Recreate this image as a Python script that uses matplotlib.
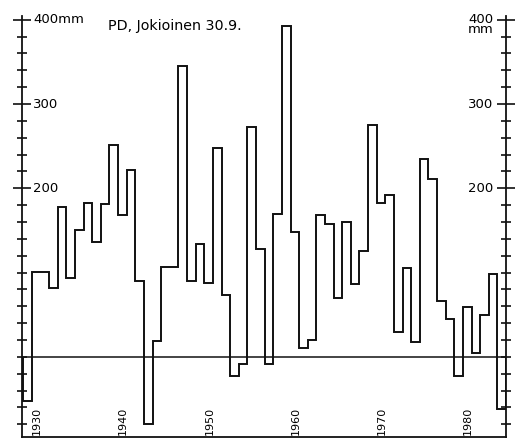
import matplotlib
matplotlib.use("Agg")
import matplotlib.pyplot as plt
import numpy as np

# PD on 30.9. at Jokioinen, one value per year, 1929-1984 (mm)
first_year = 1929
pd_values = [-52, 101, 101, 82, 178, 94, 150, 183, 136, 181,
             251, 168, 222, 90, -80, 19, 107, 107, 345, 90,
             134, 88, 248, 73, -23, -9, 273, 128, -8, 169,
             392, 148, 10, 20, 168, 158, 70, 160, 87, 125,
             275, 182, 192, 30, 105, 18, 235, 211, 66, 45,
             -23, 59, 4, 50, 98, -62]

year_labels = [1930, 1940, 1950, 1960, 1970, 1980]
left_labels = {400: "400mm", 300: "300", 200: "200"}
right_labels = {300: "300", 200: "200"}
title = "PD, Jokioinen 30.9."

edges = np.arange(first_year, first_year + len(pd_values) + 1)

fig = plt.figure(figsize=(5.18, 4.44), dpi=100)
ax = fig.add_axes([0.0425, 0.016, 0.9343, 0.949])

# the yearly steps
ax.stairs(pd_values, edges, baseline=0, color="#111111", linewidth=1.4)

# zero line
ax.axhline(0, color="#111111", linewidth=1.1)

ax.set_xlim(1928.85, 1985.0)
ax.set_ylim(-95, 405)

ax.spines["top"].set_visible(False)
for s in ["left", "right", "bottom"]:
    ax.spines[s].set_linewidth(1.3)
    ax.spines[s].set_color("#111111")

# ticks on both sides, crossing the axis lines
ax.set_xticks([])
ax.yaxis.set_ticks_position("both")
ax.set_yticks([200, 300, 400])
ax.set_yticks(np.arange(-80, 401, 20), minor=True)
ax.tick_params(axis="y", which="major", direction="inout", length=13,
               width=1.2, labelleft=False, labelright=False, color="#111111")
ax.tick_params(axis="y", which="minor", direction="inout", length=7,
               width=1.2, color="#111111")

# labels inside the axes
for val, txt in left_labels.items():
    ax.annotate(txt, xy=(0, val), xycoords=("axes fraction", "data"),
                xytext=(8, 0), textcoords="offset points",
                ha="left", va="center", fontsize=9.5)
for val, txt in right_labels.items():
    ax.annotate(txt, xy=(1, val), xycoords=("axes fraction", "data"),
                xytext=(-9, 0), textcoords="offset points",
                ha="right", va="center", fontsize=9.5)
ax.annotate("400\nmm", xy=(1, 400), xycoords=("axes fraction", "data"),
            xytext=(-9, 5), textcoords="offset points", ha="right",
            va="top", multialignment="center", linespacing=0.75,
            fontsize=9.5)

# year labels, rotated, sitting on the bottom line
for yr in year_labels:
    ax.text(yr + 0.6, -93, str(yr), rotation=90, ha="center", va="bottom",
            fontsize=8)

ax.text(1938.8, 388, title, fontsize=10.3, ha="left", va="baseline")

fig.savefig("out.png", dpi=100)
